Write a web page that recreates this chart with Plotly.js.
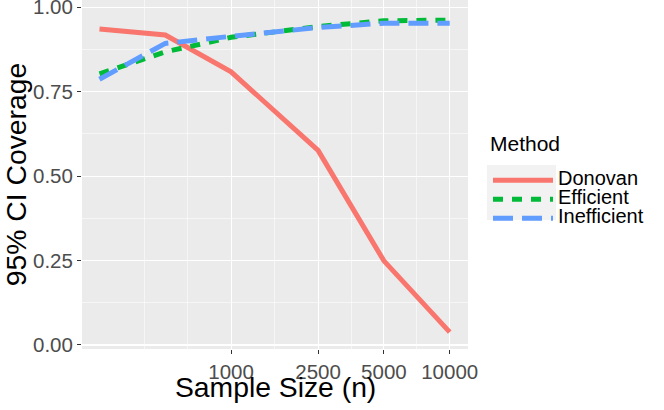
<!DOCTYPE html>
<html>
<head>
<meta charset="utf-8">
<script src="https://cdn.plot.ly/plotly-3.0.1.min.js"></script>
<style>
  html, body { margin: 0; padding: 0; background: #ffffff; }
  #chart { width: 664px; height: 410px; }
</style>
</head>
<body>
<div id="chart"></div>
<script>
// sample sizes and coverage for each method
const sampleSize = [250, 500, 1000, 2500, 5000, 10000];
const donovan = [0.936, 0.918, 0.809, 0.576, 0.249, 0.038];
const efficient = [0.803, 0.868, 0.911, 0.943, 0.960, 0.962];
const inefficient = [0.787, 0.893, 0.914, 0.940, 0.953, 0.953];

const methodNames = ["Donovan", "Efficient", "Inefficient"];
const xTicks = [1000, 2500, 5000, 10000];
const xTickLabels = ["1000", "2500", "5000", "10000"];
const yTicks = [0, 0.25, 0.5, 0.75, 1];
const yTickLabels = ["0.00", "0.25", "0.50", "0.75", "1.00"];

// ggplot-like minor grid: midpoints of the majors in log space,
// plus one major step extended below the first break
function logMinor(ticks) {
    const lg = ticks.map(v => Math.log10(v));
    const ext = [lg[0] - (lg[1] - lg[0])].concat(lg);
    let out = [Math.pow(10, ext[0])];
    for (let i = 0; i < ext.length - 1; i++) {
        out.push(Math.pow(10, (ext[i] + ext[i + 1]) / 2));
    }
    return out;
}
function linMinor(ticks) {
    let out = [];
    for (let i = 0; i < ticks.length - 1; i++) out.push((ticks[i] + ticks[i + 1]) / 2);
    return out;
}

const font = "Liberation Sans, Arial, sans-serif";
// small legend font keeps the rows tight, the span sets the visible size
const label = s => '<span style="font-size:20px">' + s + '</span>';

const traces = [
    { x: sampleSize, y: donovan, name: label(methodNames[0]), mode: "lines",
      line: { color: "#F8766D", width: 5 } },
    { x: sampleSize, y: efficient, name: label(methodNames[1]), mode: "lines",
      line: { color: "#00BA38", width: 5, dash: "10px,9px" } },
    { x: sampleSize, y: inefficient, name: label(methodNames[2]), mode: "lines",
      line: { color: "#619CFF", width: 5, dash: "20px,9px" } }
];

const layout = {
    width: 664,
    height: 410,
    margin: { l: 82, r: 196, t: 0, b: 61 },
    paper_bgcolor: "#ffffff",
    plot_bgcolor: "#EBEBEB",
    font: { family: font, color: "#000000" },
    xaxis: {
        type: "log",
        range: [2.318, 4.0836],
        tickmode: "array",
        tickvals: xTicks,
        ticktext: xTickLabels,
        ticks: "outside",
        ticklen: 4,
        tickcolor: "#333333",
        tickfont: { size: 20.5, color: "#4D4D4D" },
        showgrid: true,
        gridcolor: "#ffffff",
        gridwidth: 1.1,
        minor: { tickvals: logMinor(xTicks), showgrid: true, gridcolor: "#ffffff", gridwidth: 0.55, ticks: "" },
        zeroline: false,
        showline: false,
        ticklabeloverflow: "allow"
    },
    yaxis: {
        range: [-0.012, 1.0216],
        tickmode: "array",
        tickvals: yTicks,
        ticktext: yTickLabels,
        ticks: "outside",
        ticklen: 4,
        tickcolor: "#333333",
        tickfont: { size: 20.5, color: "#4D4D4D" },
        showgrid: true,
        gridcolor: "#ffffff",
        gridwidth: 1.1,
        minor: { tickvals: linMinor(yTicks), showgrid: true, gridcolor: "#ffffff", gridwidth: 0.55, ticks: "" },
        zeroline: false,
        showline: false,
        ticklabeloverflow: "allow",
        title: { text: "95% CI Coverage", font: { size: 28.3, color: "#000000" }, standoff: 4 }
    },
    // x title sits closer to the tick labels than the axis title standoff allows
    annotations: [{
        text: "Sample Size (n)", xref: "paper", yref: "paper",
        x: 0.5, y: -0.108, xanchor: "center", yanchor: "middle",
        showarrow: false, font: { size: 28.3, color: "#000000" }
    }],
    legend: {
        x: 1.0518,
        xanchor: "left",
        y: 0.611,
        yanchor: "top",
        bgcolor: "rgba(0,0,0,0)",
        font: { size: 12, color: "#000000" },
        itemwidth: 60,
        title: { text: '<span style="font-size:21px">Method</span><br> ', font: { size: 11.5, color: "#000000" } },
        tracegroupgap: 0
    },
    // grey backing behind the legend keys, as ggplot draws it
    shapes: [{
        type: "rect", xref: "paper", yref: "paper",
        x0: 1.049, x1: 1.228, y0: 0.3696, y1: 0.527,
        fillcolor: "#F2F2F2", line: { width: 0 }, layer: "below"
    }]
};

Plotly.newPlot("chart", traces, layout, { displayModeBar: false, staticPlot: true });
</script>
</body>
</html>
